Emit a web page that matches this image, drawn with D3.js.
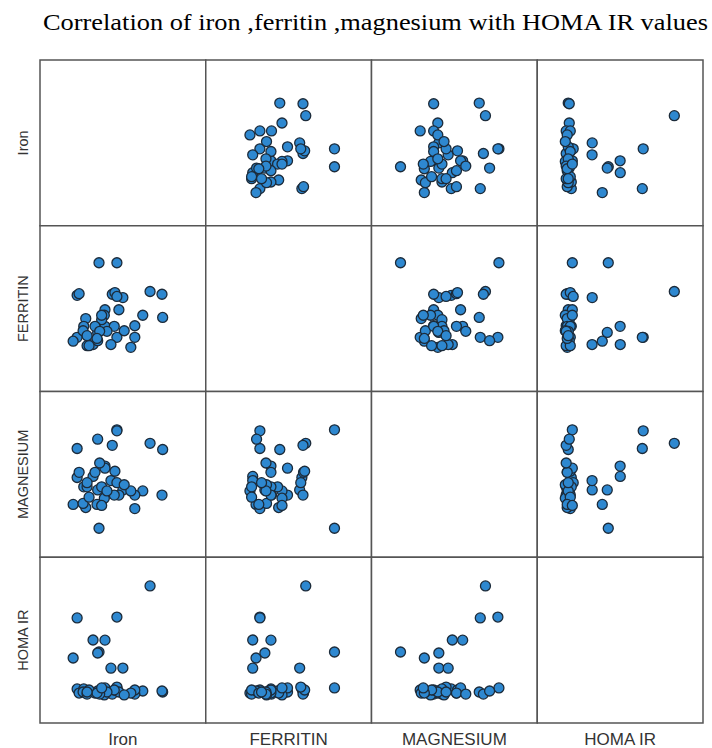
<!DOCTYPE html>
<html lang="en">
<head>
<meta charset="UTF-8">
<title>Scatter matrix</title>
<script src="https://d3js.org/d3.v7.min.js"></script>
<style>
  body { margin: 0; background: #fff; }
</style>
</head>
<body>
<script>

    // one entry per subject, same order in every list
    let iron = [166,116,116,89,56,87,80,98,50,125,107,185,184,56,59,109,113,116,119,155,
                143,143,137,98,97,93,69,66,65,71,87,83,112,127,101,90,74,86,93,71];
    let ferritin = [181,233,98,233,98,107,85,118,91,170,85,134,176,174,177,176,179,172,148,138,
                    119,98,80,148,138,130,132,118,110,83,92,118,118,110,109,109,83,96,138,101];
    let magnesium = [2.30,2.43,2.42,1.48,2.25,1.85,1.98,2.08,1.71,1.85,1.94,2.24,1.80,1.97,2.02,2.28,2.03,1.92,1.80,1.84,
                     1.80,1.67,1.84,2.06,1.77,1.88,1.68,1.88,1.72,1.88,2.34,2.02,1.80,1.90,1.84,2.11,1.78,1.71,1.70,1.92];
    let homa = [9.75,1.75,7.31,4.57,7.24,4.49,5.51,5.50,4.10,3.31,3.30,1.43,1.51,1.67,1.35,1.27,1.59,1.82,1.43,1.51,
                1.27,1.59,1.35,1.75,1.20,1.51,1.35,1.67,1.43,1.27,1.51,1.35,1.59,1.20,1.43,1.27,1.59,1.35,1.75,1.43];

    let var_names = ["Iron", "FERRITIN", "MAGNESIUM", "HOMA IR"];
    let var_domains = [[0, 250], [0, 300], [1.2, 2.8], [-1, 12]];
    let title_text = "Correlation of iron ,ferritin ,magnesium with HOMA IR values";

    let columns = [iron, ferritin, magnesium, homa];
    let n = var_names.length;

    let width = 712, height = 748;
    let grid_left = 40, grid_top = 60, grid = 663;
    let cell = grid / n;

    let svg = d3.select('body').append('svg')
        .attr('width', width)
        .attr('height', height)
        .style('display', 'block');

    svg.append('rect')
        .attr('width', width)
        .attr('height', height)
        .attr('fill', '#fff');

    svg.append('text')
        .attr('x', 43)
        .attr('y', 30)
        .attr('textLength', 665)
        .attr('lengthAdjust', 'spacingAndGlyphs')
        .style('font-family', '"Liberation Serif", "Times New Roman", serif')
        .style('font-size', '24px')
        .style('fill', '#000')
        .text(title_text);

    let xs = var_domains.map(d => d3.scaleLinear().domain(d).range([0, cell]));
    let ys = var_domains.map(d => d3.scaleLinear().domain(d).range([cell, 0]));

    let cells = [];
    for (let i = 0; i < n; i++) {
        for (let j = 0; j < n; j++) {
            cells.push({row: i, col: j});
        }
    }

    let panel = svg.selectAll('g.cell')
        .data(cells)
        .enter()
        .append('g')
        .attr('class', 'cell')
        .attr('transform', d => 'translate(' + (grid_left + d.col * cell) + ',' + (grid_top + d.row * cell) + ')');

    panel.append('rect')
        .attr('width', cell)
        .attr('height', cell)
        .attr('fill', '#fff')
        .attr('stroke', '#555')
        .attr('stroke-width', 1.5);

    panel.filter(d => d.row !== d.col).each(function (d) {
        let xv = columns[d.col], yv = columns[d.row];
        d3.select(this).selectAll('circle')
            .data(d3.range(xv.length))
            .enter()
            .append('circle')
            .attr('cx', k => xs[d.col](xv[k]))
            .attr('cy', k => ys[d.row](yv[k]))
            .attr('r', 5)
            .attr('fill', '#2e88d0')
            .attr('stroke', '#1c2b3a')
            .attr('stroke-width', 1.3);
    });

    // variable names: bottom row and left column
    svg.selectAll('text.xlab')
        .data(var_names)
        .enter()
        .append('text')
        .attr('class', 'xlab')
        .attr('x', (d, j) => grid_left + (j + 0.5) * cell)
        .attr('y', 745)
        .attr('text-anchor', 'middle')
        .style('font-family', '"Liberation Sans", Arial, sans-serif')
        .style('font-size', '17px')
        .style('fill', '#333')
        .text(d => d);

    svg.selectAll('text.ylab')
        .data(var_names)
        .enter()
        .append('text')
        .attr('class', 'ylab')
        .attr('transform', (d, i) => 'translate(28,' + (grid_top + (i + 0.5) * cell) + ') rotate(-90)')
        .attr('text-anchor', 'middle')
        .style('font-family', '"Liberation Sans", Arial, sans-serif')
        .style('font-size', '14.5px')
        .style('fill', '#333')
        .text(d => d);

</script>
</body>
</html>
